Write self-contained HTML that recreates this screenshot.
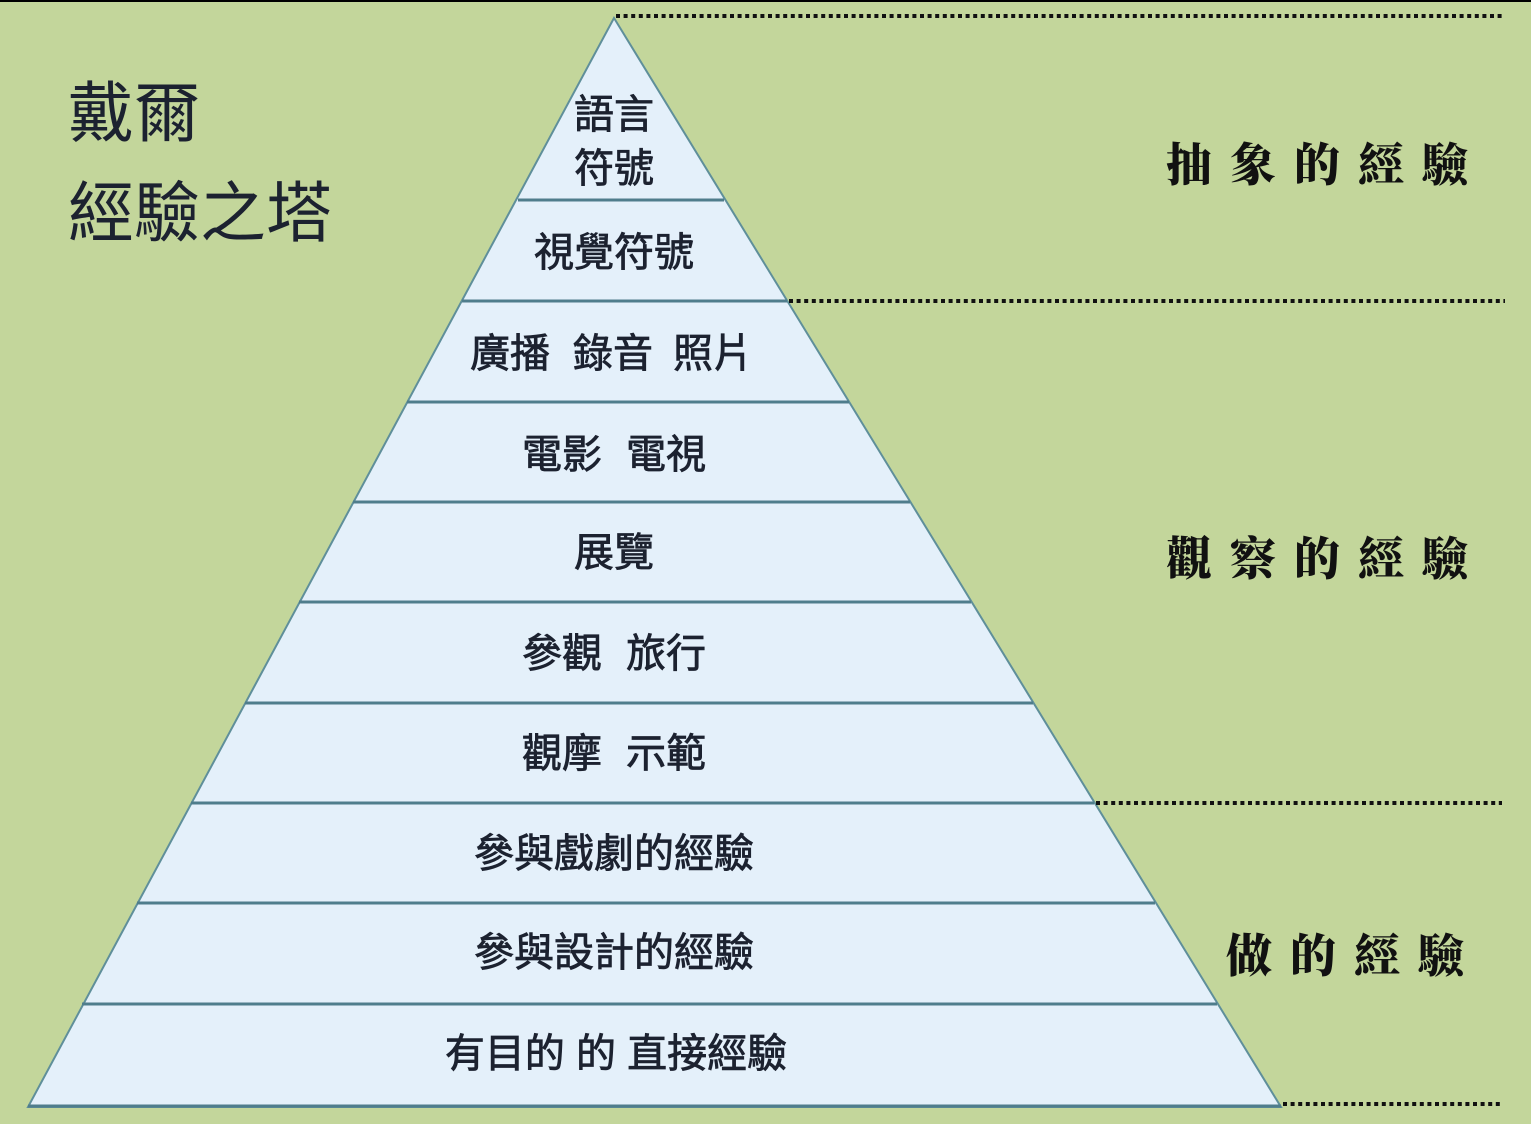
<!DOCTYPE html>
<html><head><meta charset="utf-8"><style>
html,body{margin:0;padding:0}
body{width:1531px;height:1124px;background:#c3d69b;position:relative;overflow:hidden;font-family:"Liberation Sans","Noto Sans CJK TC",sans-serif}
.t{position:absolute;color:#1c2230;font-size:66px;left:68px;line-height:1}
.r{position:absolute;font-family:"Liberation Serif","Noto Serif CJK SC",serif;font-weight:900;font-size:46px;letter-spacing:18px;color:#111;line-height:1}
</style></head><body>
<div style="position:absolute;left:0;top:0;width:1531px;height:2px;background:#000"></div>
<svg width="1531" height="1124" style="position:absolute;left:0;top:0">
<polygon points="614,18 1281,1107 28,1107" fill="#e4f0fa" stroke="#5f8f9a" stroke-width="2"/>
<g stroke="#4f7d8c" stroke-width="3">
<line x1="518" y1="200" x2="724" y2="200"/>
<line x1="462" y1="301" x2="787" y2="301"/>
<line x1="407" y1="402" x2="849" y2="402"/>
<line x1="353" y1="502" x2="910" y2="502"/>
<line x1="299" y1="602" x2="971" y2="602"/>
<line x1="245" y1="703" x2="1033" y2="703"/>
<line x1="191" y1="803" x2="1094" y2="803"/>
<line x1="137" y1="903" x2="1155" y2="903"/>
<line x1="82" y1="1004" x2="1217" y2="1004"/>
<line x1="28" y1="1106" x2="1281" y2="1106"/>
</g>
<g stroke="#111" stroke-width="4" stroke-dasharray="4,3.6">
<line x1="616" y1="16" x2="1505" y2="16"/>
<line x1="789" y1="301" x2="1505" y2="301"/>
<line x1="1096" y1="803" x2="1502" y2="803"/>
<line x1="1283" y1="1104" x2="1500" y2="1104"/>
</g>
<g font-family="Liberation Sans, Noto Sans CJK TC, sans-serif" font-size="40" fill="#1c2230" stroke="#1c2230" stroke-width="0.8" text-anchor="middle">
<text x="614" y="128">語言</text>
<text x="614" y="182">符號</text>
<text x="614" y="266">視覺符號</text>
<text x="470" y="367" text-anchor="start">廣播<tspan x="573">錄音</tspan><tspan x="673">照片</tspan></text>
<text x="522" y="468" text-anchor="start">電影<tspan x="626">電視</tspan></text>
<text x="614" y="566">展覽</text>
<text x="522" y="667" text-anchor="start">參觀<tspan x="626">旅行</tspan></text>
<text x="522" y="767" text-anchor="start">觀摩<tspan x="626">示範</tspan></text>
<text x="614" y="867">參與戲劇的經驗</text>
<text x="614" y="966">參與設計的經驗</text>
<text x="616" y="1067">有目的 的 直接經驗</text>
</g>
</svg>
<div class="t" style="top:80px">戴爾</div>
<div class="t" style="top:180px">經驗之塔</div>
<div class="r" style="left:1166px;top:143px">抽象的經驗</div>
<div class="r" style="left:1166px;top:537px">觀察的經驗</div>
<div class="r" style="left:1226px;top:934px">做的經驗</div>
</body></html>
